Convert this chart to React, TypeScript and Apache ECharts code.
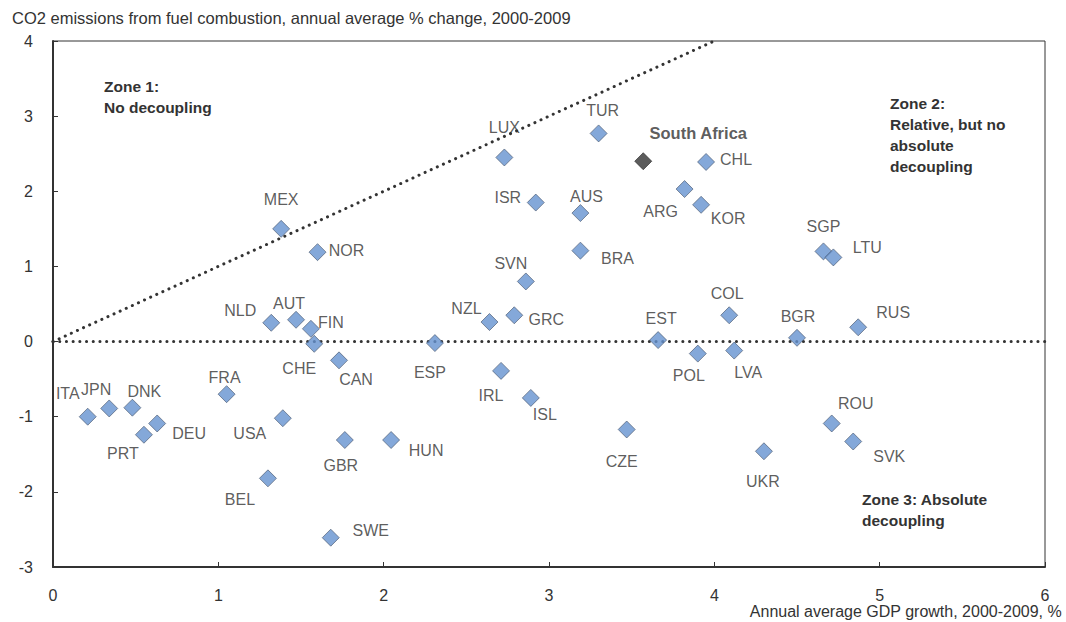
import React, { useEffect, useRef } from "react";
import * as echarts from "echarts";

const countries = ["ITA", "JPN", "DNK", "PRT", "DEU", "FRA", "USA", "BEL", "GBR", "HUN", "SWE", "NLD", "AUT", "FIN", "CHE", "CAN", "ESP", "MEX", "NOR", "LUX", "TUR", "CHL", "ISR", "AUS", "ARG", "KOR", "BRA", "SVN", "NZL", "GRC", "IRL", "ISL", "CZE", "EST", "POL", "LVA", "COL", "BGR", "RUS", "SGP", "LTU", "UKR", "ROU", "SVK"];
const gdpGrowth = [0.21, 0.34, 0.48, 0.55, 0.63, 1.05, 1.39, 1.30, 1.765, 2.045, 1.68, 1.32, 1.47, 1.56, 1.58, 1.73, 2.31, 1.38, 1.60, 2.73, 3.30, 3.95, 2.92, 3.19, 3.82, 3.92, 3.19, 2.86, 2.64, 2.79, 2.71, 2.89, 3.47, 3.66, 3.90, 4.12, 4.09, 4.50, 4.87, 4.66, 4.72, 4.30, 4.71, 4.84];
const co2Change = [-1.0, -0.89, -0.88, -1.24, -1.09, -0.70, -1.02, -1.82, -1.31, -1.31, -2.61, 0.25, 0.29, 0.17, -0.03, -0.25, -0.02, 1.50, 1.19, 2.45, 2.77, 2.39, 1.85, 1.71, 2.03, 1.82, 1.21, 0.80, 0.26, 0.35, -0.39, -0.75, -1.17, 0.02, -0.16, -0.12, 0.35, 0.05, 0.19, 1.20, 1.12, -1.46, -1.09, -1.33];

const highlightName = "South Africa";
const highlightGdp = 3.57;
const highlightCo2 = 2.40;

const xTicks = [0, 6, 1];
const yTicks = [-3, 4, 1];

const titleText = "CO2 emissions from fuel combustion, annual average % change, 2000-2009";
const xAxisTitle = "Annual average GDP growth, 2000-2009, %";
const zone1Text = "Zone 1:\nNo decoupling";
const zone2Text = "Zone 2:\nRelative, but no\nabsolute\ndecoupling";
const zone3Text = "Zone 3: Absolute\ndecoupling";

// label layout (pixel offsets of each label centre from its marker centre)
const labelOffsets: Record<string, [number, number]> = {
  ITA: [-20, -23], JPN: [-13, -19], DNK: [12, -16], PRT: [-21, 19], DEU: [32, 10],
  FRA: [-2, -17], USA: [-33, 15], BEL: [-28, 21], GBR: [-4, 25], HUN: [35, 10],
  SWE: [40, -7], NLD: [-31, -12], AUT: [-7, -16], FIN: [20, -6], CHE: [-15, 25],
  CAN: [17, 19], ESP: [-5, 29], MEX: [0, -29], NOR: [29, -2], LUX: [0, -30],
  TUR: [4, -23], CHL: [30, -2], ISR: [-28, -5], AUS: [6, -17], ARG: [-24, 22],
  KOR: [27, 14], BRA: [37, 8], SVN: [-15, -18], NZL: [-23, -14], GRC: [32, 4],
  IRL: [-10, 25], ISL: [14, 17], CZE: [-5, 32], EST: [3, -22], POL: [-9, 22],
  LVA: [14, 22], COL: [-2, -22], BGR: [1, -21], RUS: [35, -15], SGP: [0, -25],
  LTU: [34, -10], UKR: [-1, 30], ROU: [24, -20], SVK: [36, 15],
  "South Africa": [55, -28],
};

const FONT = "'Liberation Sans', Arial, sans-serif";
const TEXT = "#333333";

export default function App() {
  const ref = useRef<HTMLDivElement>(null);
  useEffect(() => {
    if (!ref.current) return;
    const chart = echarts.init(ref.current, null, { renderer: "svg" });

    const names = [...countries, highlightName];
    const points: any[] = countries.map((c, i) => ({
      name: c,
      value: [gdpGrowth[i], co2Change[i]],
    }));
    points.push({
      name: highlightName,
      value: [highlightGdp, highlightCo2],
      label: { fontWeight: "bold", fontSize: 16.5 },
      itemStyle: { color: "#333333", borderColor: "#222222" },
    });

    const dotted = {
      type: [0.1, 6.6],
      cap: "round",
      width: 3,
      color: "#333333",
    };

    chart.setOption({
      animation: false,
      grid: {
        left: 53,
        right: 21,
        top: 41,
        bottom: 55,
        show: true,
        borderColor: "#333333",
        borderWidth: 1,
        backgroundColor: "transparent",
      },
      xAxis: {
        type: "value",
        min: xTicks[0],
        max: xTicks[1],
        interval: xTicks[2],
        axisLine: { show: true, onZero: false, lineStyle: { color: "#333333", width: 2 } },
        axisTick: { show: true, inside: true, length: 5, lineStyle: { color: "#333333", width: 1 } },
        axisLabel: { color: TEXT, fontSize: 16, fontFamily: FONT, margin: 20 },
        splitLine: { show: false },
      },
      yAxis: {
        type: "value",
        min: yTicks[0],
        max: yTicks[1],
        interval: yTicks[2],
        axisLine: { show: true, onZero: false, lineStyle: { color: "#333333", width: 2 } },
        axisTick: { show: true, inside: true, length: 5, lineStyle: { color: "#333333", width: 1 } },
        axisLabel: { color: TEXT, fontSize: 16, fontFamily: FONT, margin: 20 },
        splitLine: { show: false },
      },
      series: [
        {
          type: "line",
          data: [[0, 0], [4, 4]],
          showSymbol: false,
          silent: true,
          lineStyle: dotted,
          z: 1,
        },
        {
          type: "line",
          data: [[0, 0], [6, 0]],
          showSymbol: false,
          silent: true,
          lineStyle: dotted,
          z: 1,
        },
        {
          type: "scatter",
          symbol: "diamond",
          symbolSize: 17,
          z: 3,
          itemStyle: { color: "#6592cf", borderColor: "#46536a", borderWidth: 0.8 },
          label: {
            show: true,
            position: "inside",
            formatter: "{b}",
            color: TEXT,
            fontSize: 16,
            fontFamily: FONT,
            align: "center",
            verticalAlign: "middle",
            textBorderWidth: 0,
          },
          labelLayout: (params: any) => {
            const off = labelOffsets[names[params.dataIndex]] || [0, -20];
            return { dx: off[0], dy: off[1], hideOverlap: false };
          },
          data: points,
        },
      ],
      graphic: [
        {
          type: "text",
          left: 12,
          top: 9,
          style: { text: titleText, fill: TEXT, font: `16.5px ${FONT}` },
        },
        {
          type: "text",
          right: 4,
          top: 603,
          style: { text: xAxisTitle, fill: TEXT, font: `16px ${FONT}` },
        },
        {
          type: "text",
          left: 104,
          top: 76,
          style: { text: zone1Text, fill: TEXT, font: `bold 15.5px ${FONT}`, lineHeight: 21 },
        },
        {
          type: "text",
          left: 890,
          top: 93,
          style: { text: zone2Text, fill: TEXT, font: `bold 15.5px ${FONT}`, lineHeight: 21 },
        },
        {
          type: "text",
          left: 862,
          top: 489,
          style: { text: zone3Text, fill: TEXT, font: `bold 15.5px ${FONT}`, lineHeight: 21 },
        },
      ],
    });
    return () => chart.dispose();
  }, []);
  return (
    <div
      ref={ref}
      style={{ position: "fixed", left: 0, top: 0, width: 1066, height: 622, background: "#ffffff" }}
    />
  );
}
